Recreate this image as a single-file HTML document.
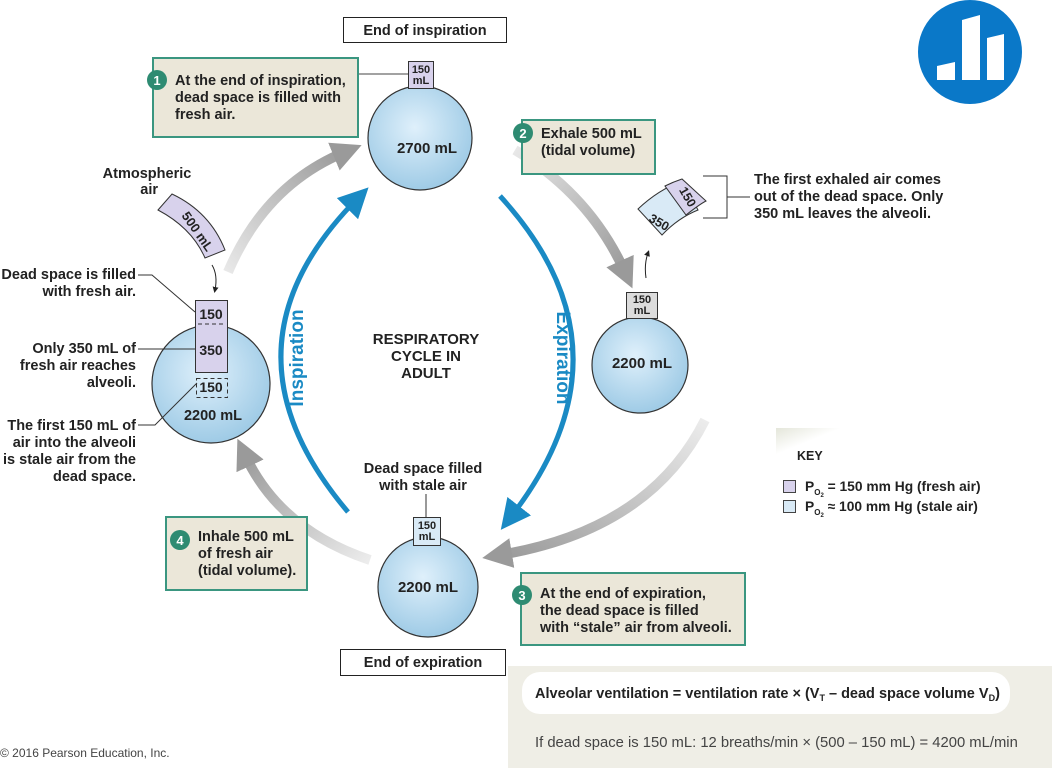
<!DOCTYPE html>
<html><head><meta charset="utf-8"><style>
html,body{margin:0;padding:0;background:#fff}
svg{display:block;font-family:"Liberation Sans",Arial,sans-serif;font-weight:bold}
</style></head><body>
<svg width="1052" height="768" viewBox="0 0 1052 768" xmlns="http://www.w3.org/2000/svg">
<defs>
<radialGradient id="alv" cx="45%" cy="40%" r="60%">
<stop offset="0" stop-color="#dff0fb"/><stop offset="1" stop-color="#9fcbe6"/></radialGradient>
<marker id="bh" markerWidth="6" markerHeight="6" refX="3" refY="3" orient="auto" markerUnits="strokeWidth"><path d="M0,0 L6,3 L0,6 z" fill="#1a8ac4"/></marker>
<marker id="gh" markerWidth="3" markerHeight="3" refX="1.2" refY="1.5" orient="auto" markerUnits="strokeWidth"><path d="M0,0 L3,1.5 L0,3 z" fill="#9a9a9a"/></marker>
<marker id="kh" markerWidth="6" markerHeight="6" refX="3" refY="3" orient="auto" markerUnits="strokeWidth"><path d="M0,0 L6,3 L0,6 z" fill="#222"/></marker>
<linearGradient id="key" x1="0" y1="0" x2="1" y2="1"><stop offset="0" stop-color="#e4e6da"/><stop offset="0.12" stop-color="#fff"/></linearGradient>
<linearGradient id="g1" x1="0" y1="1" x2="1" y2="0"><stop offset="0" stop-color="#e8e8e8"/><stop offset="1" stop-color="#9a9a9a"/></linearGradient>
<linearGradient id="g2" x1="0" y1="0" x2="1" y2="1"><stop offset="0" stop-color="#e8e8e8"/><stop offset="1" stop-color="#9a9a9a"/></linearGradient>
<linearGradient id="g3" x1="1" y1="0" x2="0" y2="1"><stop offset="0" stop-color="#ececec"/><stop offset="1" stop-color="#9a9a9a"/></linearGradient>
<linearGradient id="g4" x1="1" y1="1" x2="0" y2="0"><stop offset="0" stop-color="#ececec"/><stop offset="1" stop-color="#9a9a9a"/></linearGradient>
</defs>

<g fill="none" stroke-width="10" marker-end="url(#gh)">
<path d="M228,272 Q265,185 345,152" stroke="url(#g1)"/>
<path d="M515,150 Q590,195 625,272" stroke="url(#g2)"/>
<path d="M705,420 Q650,530 500,555" stroke="url(#g3)"/>
<path d="M370,560 Q280,530 245,455" stroke="url(#g4)"/>
</g>

<g fill="none" stroke="#1a8ac4" stroke-width="5" marker-end="url(#bh)">
<path d="M348,512 Q209,348 358,198"/>
<path d="M500,196 Q641,350 510,518"/>
</g>
<text transform="translate(303,358) rotate(-90)" text-anchor="middle" font-size="19" fill="#1a8ac4">Inspiration</text>
<text transform="translate(557,358) rotate(90)" text-anchor="middle" font-size="19" fill="#1a8ac4">Expiration</text>

<text x="426" y="344" text-anchor="middle" font-size="15" fill="#222">RESPIRATORY</text>
<text x="426" y="361" text-anchor="middle" font-size="15" fill="#222">CYCLE IN</text>
<text x="426" y="378" text-anchor="middle" font-size="15" fill="#222">ADULT</text>

<rect x="343.5" y="17.5" width="163" height="25" fill="#fff" stroke="#222"/>
<text x="425" y="35" text-anchor="middle" font-size="14.5" fill="#222">End of inspiration</text>
<rect x="340.5" y="649.5" width="165" height="26" fill="#fff" stroke="#222"/>
<text x="423" y="667" text-anchor="middle" font-size="14.5" fill="#222">End of expiration</text>

<line x1="357" y1="74" x2="409" y2="74" stroke="#444"/>
<rect x="153" y="58" width="205" height="79" fill="#ebe7d9" stroke="#3a9680" stroke-width="2"/>
<circle cx="157" cy="80" r="10" fill="#2e8b72"/><text x="157" y="85" text-anchor="middle" font-size="13" fill="#fff">1</text>
<g font-size="14.5" fill="#222"><text x="175" y="85">At the end of inspiration,</text><text x="175" y="102">dead space is filled with</text><text x="175" y="119">fresh air.</text></g>

<circle cx="420" cy="138" r="52" fill="url(#alv)" stroke="#333" stroke-width="1.2"/>
<rect x="408.5" y="61.5" width="25" height="27" fill="#d8d2ec" stroke="#333"/>
<text x="421" y="73" text-anchor="middle" font-size="11" fill="#222">150</text><text x="421" y="84" text-anchor="middle" font-size="11" fill="#222">mL</text>
<text x="427" y="153" text-anchor="middle" font-size="15" fill="#222">2700 mL</text>

<rect x="522" y="120" width="133" height="54" fill="#ebe7d9" stroke="#3a9680" stroke-width="2"/>
<circle cx="523" cy="133" r="10" fill="#2e8b72"/><text x="523" y="138" text-anchor="middle" font-size="13" fill="#fff">2</text>
<g font-size="14.5" fill="#222"><text x="541" y="138">Exhale 500 mL</text><text x="541" y="155">(tidal volume)</text></g>

<path d="M638,209 Q658,190 682,181 L698,210 Q678,218 662,235 Z" fill="#d9eaf6" stroke="#333"/>
<path d="M665,186 Q673,182 682,179 L706,201 Q700,204 686,215 Z" fill="#d8d2ec" stroke="#333"/>
<text transform="translate(684,199) rotate(60)" text-anchor="middle" font-size="12.5" fill="#222">150</text>
<text transform="translate(657,226) rotate(30)" text-anchor="middle" font-size="12.5" fill="#222">350</text>
<path d="M646,278 Q644,264 648,253" fill="none" stroke="#222" marker-end="url(#kh)"/>
<path d="M703,176 H727 V218 H703 M727,197 H750" fill="none" stroke="#333"/>
<g font-size="14.5" fill="#222"><text x="754" y="184">The first exhaled air comes</text><text x="754" y="201">out of the dead space. Only</text><text x="754" y="218">350 mL leaves the alveoli.</text></g>

<circle cx="640" cy="365" r="48" fill="url(#alv)" stroke="#333" stroke-width="1.2"/>
<rect x="626.5" y="292.5" width="31" height="26" fill="#dcdcdc" stroke="#333"/>
<text x="642" y="303" text-anchor="middle" font-size="11" fill="#222">150</text><text x="642" y="314" text-anchor="middle" font-size="11" fill="#222">mL</text>
<text x="642" y="368" text-anchor="middle" font-size="15" fill="#222">2200 mL</text>

<text x="147" y="178" text-anchor="middle" font-size="14.5" fill="#222">Atmospheric</text>
<text x="158" y="194" text-anchor="end" font-size="14.5" fill="#222">air</text>
<path d="M158,210 L172,194 Q210,212 225,250 L205,258 Q192,228 158,210 Z" fill="#d8d2ec" stroke="#333"/>
<text transform="translate(194,234) rotate(55)" text-anchor="middle" font-size="13" fill="#222">500 mL</text>
<path d="M212,265 Q218,275 215,290" fill="none" stroke="#222" marker-end="url(#kh)"/>
<circle cx="211" cy="384" r="59" fill="url(#alv)" stroke="#333" stroke-width="1.2"/>
<rect x="195.5" y="300.5" width="32" height="72" fill="#d8d2ec" stroke="#333"/>
<line x1="198" y1="324" x2="226" y2="324" stroke="#333" stroke-dasharray="4,3"/>
<text x="211" y="319" text-anchor="middle" font-size="14" fill="#222">150</text>
<text x="211" y="355" text-anchor="middle" font-size="14" fill="#222">350</text>
<rect x="196.5" y="378.5" width="31" height="19" fill="none" stroke="#333" stroke-dasharray="4,3"/>
<text x="211" y="392" text-anchor="middle" font-size="14" fill="#222">150</text>
<text x="213" y="420" text-anchor="middle" font-size="14.5" fill="#222">2200 mL</text>
<g fill="none" stroke="#333"><path d="M138,275 H152 L195,312"/><path d="M138,349 H195"/><path d="M138,425 H155 L197,383"/></g>
<g font-size="14.5" fill="#222" text-anchor="end">
<text x="136" y="279">Dead space is filled</text><text x="136" y="296">with fresh air.</text>
<text x="136" y="353">Only 350 mL of</text><text x="136" y="370">fresh air reaches</text><text x="136" y="387">alveoli.</text>
<text x="136" y="430">The first 150 mL of</text><text x="136" y="447">air into the alveoli</text><text x="136" y="464">is stale air from the</text><text x="136" y="481">dead space.</text>
</g>

<rect x="166" y="517" width="141" height="73" fill="#ebe7d9" stroke="#3a9680" stroke-width="2"/>
<circle cx="180" cy="540" r="10" fill="#2e8b72"/><text x="180" y="545" text-anchor="middle" font-size="13" fill="#fff">4</text>
<g font-size="14.5" fill="#222"><text x="198" y="541">Inhale 500 mL</text><text x="198" y="558">of fresh air</text><text x="198" y="575">(tidal volume).</text></g>

<text x="423" y="473" text-anchor="middle" font-size="14.5" fill="#222">Dead space filled</text>
<text x="423" y="490" text-anchor="middle" font-size="14.5" fill="#222">with stale air</text>
<line x1="426" y1="494" x2="426" y2="518" stroke="#333"/>
<circle cx="428" cy="587" r="50" fill="url(#alv)" stroke="#333" stroke-width="1.2"/>
<rect x="413.5" y="517.5" width="27" height="28" fill="#d9eaf6" stroke="#333"/>
<text x="427" y="529" text-anchor="middle" font-size="11" fill="#222">150</text><text x="427" y="540" text-anchor="middle" font-size="11" fill="#222">mL</text>
<text x="428" y="592" text-anchor="middle" font-size="15" fill="#222">2200 mL</text>

<rect x="521" y="573" width="224" height="72" fill="#ebe7d9" stroke="#3a9680" stroke-width="2"/>
<circle cx="522" cy="595" r="10" fill="#2e8b72"/><text x="522" y="600" text-anchor="middle" font-size="13" fill="#fff">3</text>
<g font-size="14.5" fill="#222"><text x="540" y="598">At the end of expiration,</text><text x="540" y="615">the dead space is filled</text><text x="540" y="632">with “stale” air from alveoli.</text></g>

<rect x="776" y="428" width="276" height="112" fill="url(#key)"/>
<text x="797" y="460" font-size="12.5" fill="#222">KEY</text>
<rect x="783.5" y="480.5" width="12" height="12" fill="#d8d2ec" stroke="#444"/>
<rect x="783.5" y="500.5" width="12" height="12" fill="#d9eaf6" stroke="#444"/>
<g font-size="13.8" fill="#222">
<text x="805" y="491">P<tspan font-size="8" dy="4">O</tspan><tspan font-size="6" dy="2">2</tspan><tspan dy="-6"> = 150 mm Hg (fresh air)</tspan></text>
<text x="805" y="511">P<tspan font-size="8" dy="4">O</tspan><tspan font-size="6" dy="2">2</tspan><tspan dy="-6"> ≈ 100 mm Hg (stale air)</tspan></text>
</g>

<rect x="508" y="666" width="544" height="102" fill="#efeee6"/>
<rect x="522" y="672" width="488" height="42" rx="18" fill="#fff"/>
<text x="535" y="698" font-size="14.5" fill="#222">Alveolar ventilation = ventilation rate × (V<tspan font-size="9" dy="3">T</tspan><tspan dy="-3">  – dead space volume V</tspan><tspan font-size="9" dy="3">D</tspan><tspan dy="-3">)</tspan></text>
<text x="535" y="747" font-size="14.8" font-weight="normal" fill="#444">If dead space is 150 mL: 12 breaths/min × (500 – 150 mL) = 4200 mL/min</text>

<text x="0" y="757" font-size="12" font-weight="normal" fill="#444">© 2016 Pearson Education, Inc.</text>

<circle cx="970" cy="52" r="52" fill="#0a78c8"/>
<path d="M937,66 L955,62 V80 H937 Z" fill="#fff"/>
<path d="M962,20 L980,15 V80 H962 Z" fill="#fff"/>
<path d="M987,38 L1004,34 V80 H987 Z" fill="#fff"/>
</svg>
</body></html>
